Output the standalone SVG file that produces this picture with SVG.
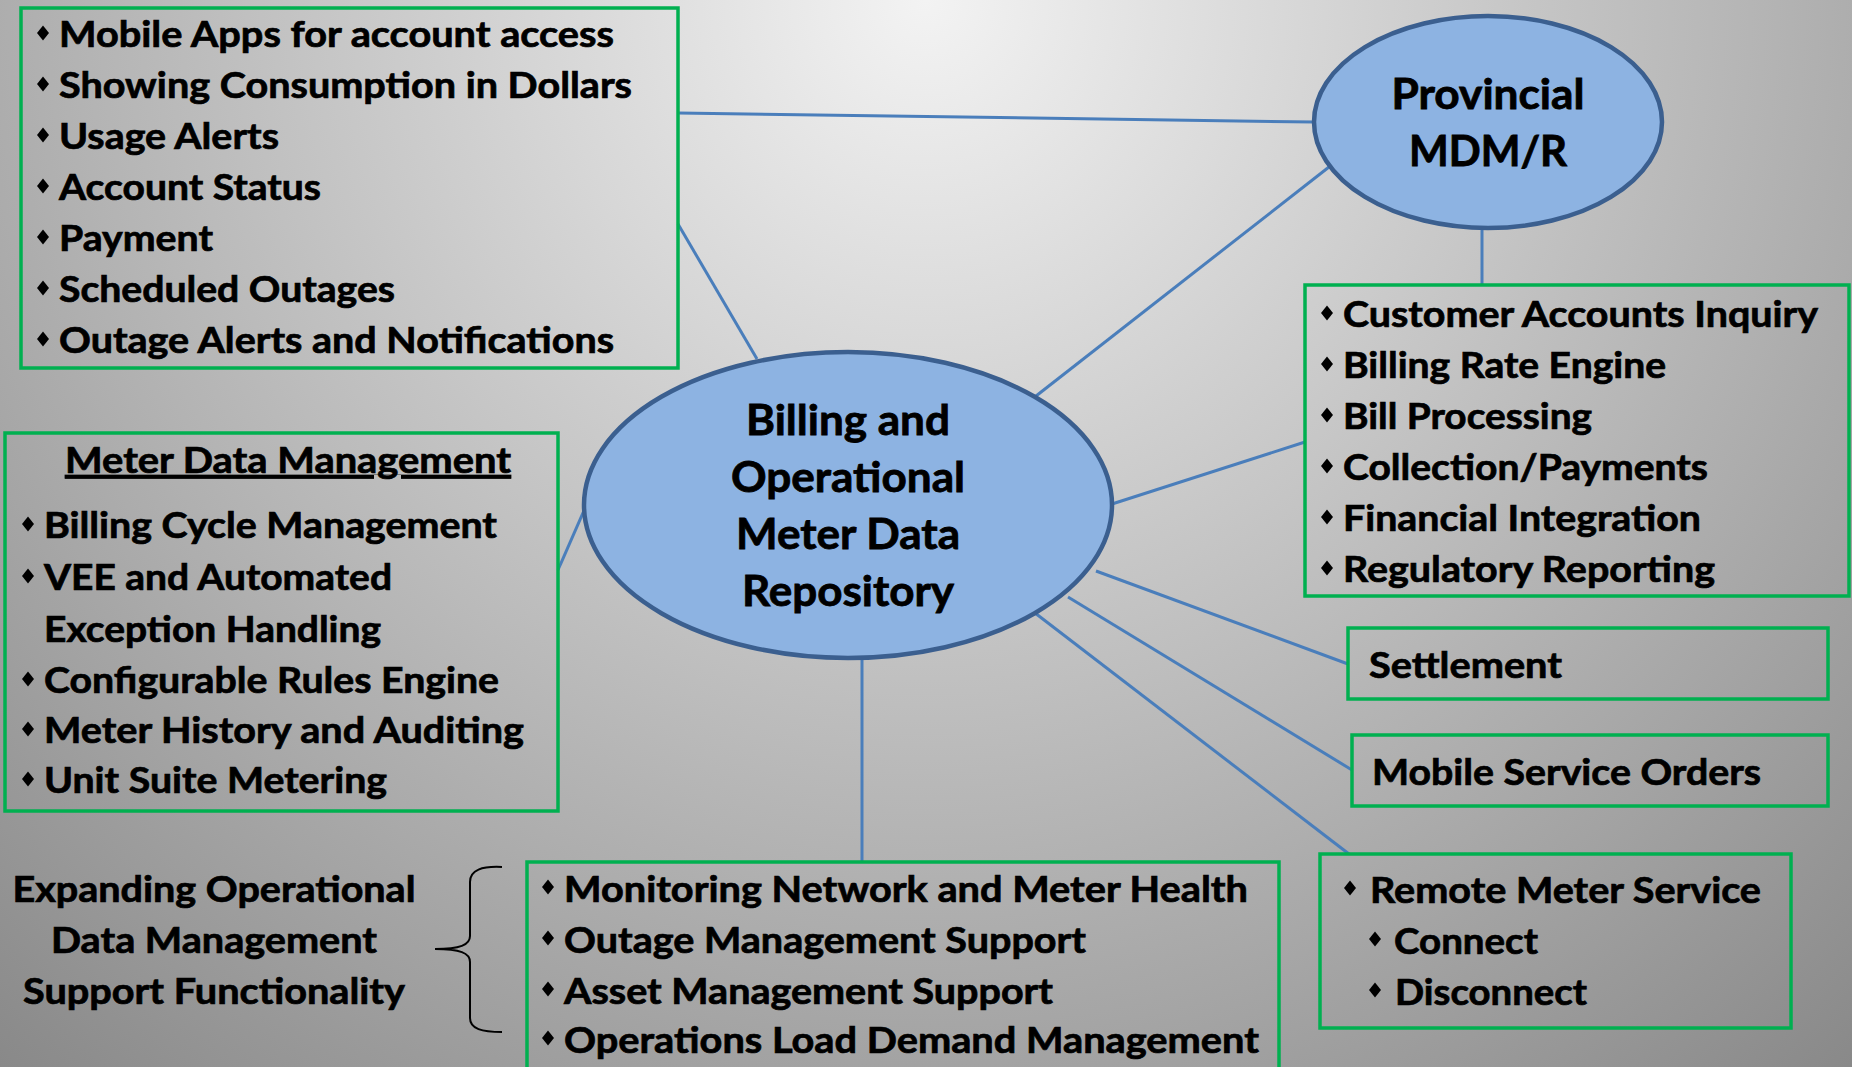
<svg xmlns="http://www.w3.org/2000/svg" xmlns:xlink="http://www.w3.org/1999/xlink" width="1852" height="1067" viewBox="0 0 1852 1067">
<defs>
<radialGradient id="bg" gradientUnits="userSpaceOnUse" cx="926" cy="0" r="1450">
<stop offset="0" stop-color="#f3f3f3"/>
<stop offset="1" stop-color="#868686"/>
</radialGradient>
<path id="dia" d="M0,-7.5 L6,0 L0,7.5 L-6,0 Z" fill="#000"/>
</defs>
<style>
.box{fill:none;stroke:#00b050;stroke-width:3.5}
.ell{fill:#8db3e2;stroke:#3b5f8f;stroke-width:4.5}
.con{stroke:#4a7ebb;stroke-width:3;fill:none}
.t{font-family:Lato,"Open Sans","Liberation Sans",sans-serif;font-weight:bold;font-size:36px;fill:#000;stroke:#000;stroke-width:0.7}
.e{font-family:Lato,"Open Sans","Liberation Sans",sans-serif;font-weight:bold;font-size:42px;fill:#000;stroke:#000;stroke-width:0.8;text-anchor:middle}
</style>
<rect x="0" y="0" width="1852" height="1067" fill="url(#bg)"/>

<g id="connectors">
<line class="con" x1="678" y1="113" x2="1314" y2="122"/>
<line class="con" x1="678" y1="224" x2="757" y2="359"/>
<line class="con" x1="1329" y1="167" x2="1036" y2="396"/>
<line class="con" x1="1482" y1="229" x2="1482" y2="285"/>
<line class="con" x1="1112" y1="504" x2="1305" y2="442"/>
<line class="con" x1="1096" y1="571" x2="1348" y2="664"/>
<line class="con" x1="1068" y1="597" x2="1352" y2="770"/>
<line class="con" x1="1035" y1="613" x2="1349" y2="854"/>
<line class="con" x1="558" y1="570" x2="586" y2="506"/>
<line class="con" x1="862" y1="658" x2="862" y2="862"/>
</g>

<g id="provincial">
<ellipse class="ell" cx="1488" cy="122" rx="174" ry="106"/>
<text class="e" x="1488" y="109" textLength="193" lengthAdjust="spacingAndGlyphs">Provincial</text>
<text class="e" x="1488" y="166" textLength="158" lengthAdjust="spacingAndGlyphs">MDM/R</text>
</g>

<g id="billing">
<ellipse class="ell" cx="848" cy="505" rx="264" ry="153"/>
<text class="e" x="848" y="435" textLength="204" lengthAdjust="spacingAndGlyphs">Billing and</text>
<text class="e" x="848" y="492" textLength="234" lengthAdjust="spacingAndGlyphs">Operational</text>
<text class="e" x="848" y="549" textLength="224" lengthAdjust="spacingAndGlyphs">Meter Data</text>
<text class="e" x="848" y="606" textLength="212" lengthAdjust="spacingAndGlyphs">Repository</text>
</g>

<g id="customer-services">
<rect class="box" x="21" y="8" width="657" height="360"/>
<use xlink:href="#dia" x="43" y="33"/>
<use xlink:href="#dia" x="43" y="84"/>
<use xlink:href="#dia" x="43" y="135"/>
<use xlink:href="#dia" x="43" y="186"/>
<use xlink:href="#dia" x="43" y="237"/>
<use xlink:href="#dia" x="43" y="288"/>
<use xlink:href="#dia" x="43" y="339"/>
<text class="t" x="59" y="47" textLength="555" lengthAdjust="spacingAndGlyphs">Mobile Apps for account access</text>
<text class="t" x="59" y="98" textLength="573" lengthAdjust="spacingAndGlyphs">Showing Consumption in Dollars</text>
<text class="t" x="59" y="149" textLength="220" lengthAdjust="spacingAndGlyphs">Usage Alerts</text>
<text class="t" x="59" y="200" textLength="262" lengthAdjust="spacingAndGlyphs">Account Status</text>
<text class="t" x="59" y="251" textLength="154" lengthAdjust="spacingAndGlyphs">Payment</text>
<text class="t" x="59" y="302" textLength="336" lengthAdjust="spacingAndGlyphs">Scheduled Outages</text>
<text class="t" x="59" y="353" textLength="555" lengthAdjust="spacingAndGlyphs">Outage Alerts and Notifications</text>
</g>

<g id="billing-functions">
<rect class="box" x="1305" y="285" width="544" height="311"/>
<use xlink:href="#dia" x="1327" y="313"/>
<use xlink:href="#dia" x="1327" y="364"/>
<use xlink:href="#dia" x="1327" y="415"/>
<use xlink:href="#dia" x="1327" y="466"/>
<use xlink:href="#dia" x="1327" y="517"/>
<use xlink:href="#dia" x="1327" y="568"/>
<text class="t" x="1343" y="327" textLength="475" lengthAdjust="spacingAndGlyphs">Customer Accounts Inquiry</text>
<text class="t" x="1343" y="378" textLength="323" lengthAdjust="spacingAndGlyphs">Billing Rate Engine</text>
<text class="t" x="1343" y="429" textLength="249" lengthAdjust="spacingAndGlyphs">Bill Processing</text>
<text class="t" x="1343" y="480" textLength="365" lengthAdjust="spacingAndGlyphs">Collection/Payments</text>
<text class="t" x="1343" y="531" textLength="358" lengthAdjust="spacingAndGlyphs">Financial Integration</text>
<text class="t" x="1343" y="582" textLength="372" lengthAdjust="spacingAndGlyphs">Regulatory Reporting</text>
</g>

<g id="meter-data-management">
<rect class="box" x="5" y="433" width="553" height="378"/>
<text class="t" x="65" y="473" textLength="446" lengthAdjust="spacingAndGlyphs" text-decoration="underline">Meter Data Management</text>
<use xlink:href="#dia" x="28" y="524"/>
<use xlink:href="#dia" x="28" y="576"/>
<use xlink:href="#dia" x="28" y="679"/>
<use xlink:href="#dia" x="28" y="729"/>
<use xlink:href="#dia" x="28" y="779"/>
<text class="t" x="44" y="538" textLength="453" lengthAdjust="spacingAndGlyphs">Billing Cycle Management</text>
<text class="t" x="44" y="590" textLength="348" lengthAdjust="spacingAndGlyphs">VEE and Automated</text>
<text class="t" x="44" y="642" textLength="337" lengthAdjust="spacingAndGlyphs">Exception Handling</text>
<text class="t" x="44" y="693" textLength="455" lengthAdjust="spacingAndGlyphs">Configurable Rules Engine</text>
<text class="t" x="44" y="743" textLength="480" lengthAdjust="spacingAndGlyphs">Meter History and Auditing</text>
<text class="t" x="44" y="793" textLength="343" lengthAdjust="spacingAndGlyphs">Unit Suite Metering</text>
</g>

<g id="expanding-label">
<text class="t" x="214" y="902" text-anchor="middle" textLength="403" lengthAdjust="spacingAndGlyphs">Expanding Operational</text>
<text class="t" x="214" y="953" text-anchor="middle" textLength="326" lengthAdjust="spacingAndGlyphs">Data Management</text>
<text class="t" x="214" y="1004" text-anchor="middle" textLength="382" lengthAdjust="spacingAndGlyphs">Support Functionality</text>
<path d="M502,867 C482,866 470,870 470,882 L470,936 C470,945 460,949 435,949 C460,949 470,953 470,962 L470,1018 C470,1029 482,1032 502,1032" fill="none" stroke="#000" stroke-width="2"/>
</g>

<g id="operational-functions">
<rect class="box" x="527" y="862" width="752" height="220"/>
<use xlink:href="#dia" x="548" y="887"/>
<use xlink:href="#dia" x="548" y="938"/>
<use xlink:href="#dia" x="548" y="989"/>
<use xlink:href="#dia" x="548" y="1038"/>
<text class="t" x="564" y="902" textLength="684" lengthAdjust="spacingAndGlyphs">Monitoring Network and Meter Health</text>
<text class="t" x="564" y="953" textLength="522" lengthAdjust="spacingAndGlyphs">Outage Management Support</text>
<text class="t" x="564" y="1004" textLength="489" lengthAdjust="spacingAndGlyphs">Asset Management Support</text>
<text class="t" x="564" y="1053" textLength="695" lengthAdjust="spacingAndGlyphs">Operations Load Demand Management</text>
</g>

<g id="settlement">
<rect class="box" x="1348" y="628" width="480" height="71"/>
<text class="t" x="1369" y="678" textLength="193" lengthAdjust="spacingAndGlyphs">Settlement</text>
</g>

<g id="mobile-service-orders">
<rect class="box" x="1352" y="735" width="476" height="71"/>
<text class="t" x="1372" y="785" textLength="389" lengthAdjust="spacingAndGlyphs">Mobile Service Orders</text>
</g>

<g id="remote-meter-service">
<rect class="box" x="1320" y="854" width="471" height="174"/>
<use xlink:href="#dia" x="1350" y="888"/>
<use xlink:href="#dia" x="1375" y="939"/>
<use xlink:href="#dia" x="1375" y="990"/>
<text class="t" x="1370" y="903" textLength="391" lengthAdjust="spacingAndGlyphs">Remote Meter Service</text>
<text class="t" x="1394" y="954" textLength="144" lengthAdjust="spacingAndGlyphs">Connect</text>
<text class="t" x="1395" y="1005" textLength="192" lengthAdjust="spacingAndGlyphs">Disconnect</text>
</g>
</svg>
